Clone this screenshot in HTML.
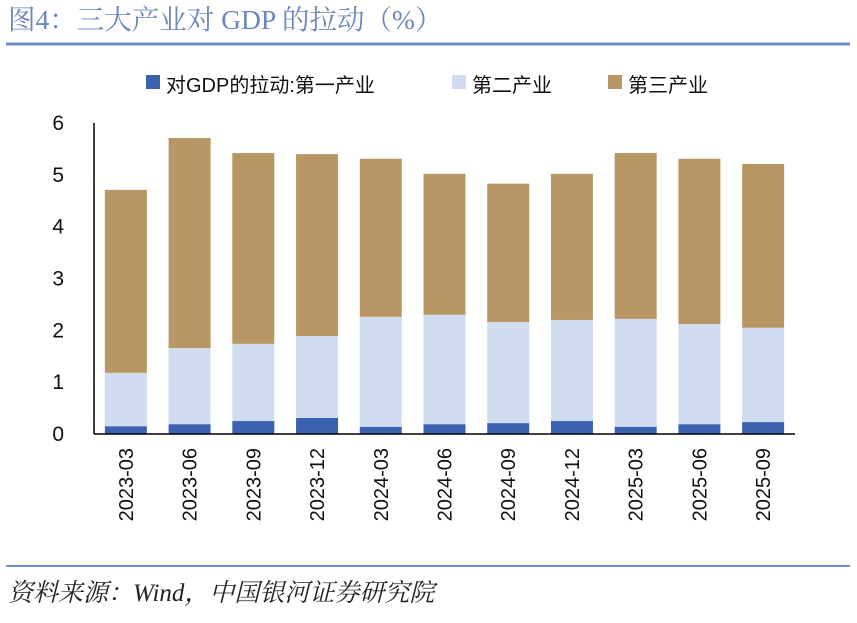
<!DOCTYPE html>
<html><head><meta charset="utf-8"><style>
body{margin:0;background:#fff;width:857px;height:618px;overflow:hidden;font-family:"Liberation Serif","Noto Serif CJK SC",serif;}
</style></head><body>
<svg width="857" height="618">
<text x="8" y="29" font-size="27.5" fill="#6a86ba" font-family="Liberation Serif, Noto Serif CJK SC, serif">图4：三大产业对 GDP 的拉动（%）</text>
<line x1="6" y1="44" x2="850" y2="44" stroke="#6f8fc4" stroke-width="3"/>
<g id="legend" font-size="20" font-family="Liberation Sans, Noto Sans CJK SC, sans-serif" fill="#111">
<rect x="146" y="75" width="14" height="14" fill="#3a62b0"/>
<text x="166" y="92">对GDP的拉动:第一产业</text>
<rect x="452" y="75" width="14" height="14" fill="#d0ddf0"/>
<text x="472" y="92">第二产业</text>
<rect x="608" y="75" width="14" height="14" fill="#b99764"/>
<text x="628" y="92">第三产业</text>
</g>
<g id="plot"></g>
<line x1="6" y1="566" x2="850" y2="566" stroke="#6f8fc4" stroke-width="2"/>
<text x="8" y="601" font-size="25" font-style="italic" fill="#222" font-family="Liberation Serif, Noto Serif CJK SC, serif">资料来源：Wind，中国银河证券研究院</text>
</svg>
<script>
const categories=["2023-03","2023-06","2023-09","2023-12","2024-03","2024-06","2024-09","2024-12","2025-03","2025-06","2025-09"];
const primary=[0.15,0.19,0.25,0.31,0.14,0.19,0.21,0.25,0.14,0.19,0.23];
const secondary=[1.03,1.47,1.49,1.58,2.12,2.11,1.95,1.95,2.08,1.93,1.82];
const tertiary=[3.53,4.05,3.68,3.51,3.05,2.72,2.67,2.82,3.20,3.19,3.16];
const yTicks=[0,1,2,3,4,5,6];
const NS="http://www.w3.org/2000/svg";
const g=document.getElementById('plot');
const x0=94,x1=795,yb=434,yt=123,ymax=6;
const step=(x1-x0)/categories.length,bw=42;
const Y=v=>yb-(v/ymax)*(yb-yt);
const X=i=>x0+step*(i+0.5);
function mk(t,a){const e=document.createElementNS(NS,t);for(const k in a)e.setAttribute(k,a[k]);g.appendChild(e);return e;}
const series=[[primary,"#3a62b0","primary"],[secondary,"#d0ddf0","secondary"],[tertiary,"#b99764","tertiary"]];
categories.forEach((c,i)=>{
  let base=0;
  series.forEach(([arr,col,nm])=>{
    const r=mk('rect',{x:X(i)-bw/2,y:Y(base+arr[i]),width:bw,height:Y(base)-Y(base+arr[i]),fill:col});
    
    
    base+=arr[i];
  });
  const t=mk('text',{x:0,y:0,transform:`translate(${X(i)+7},448) rotate(-90)`,'text-anchor':'end','font-size':20,fill:'#111','font-family':'Liberation Sans, sans-serif'});
  t.textContent=c;
  
  
});
yTicks.forEach(v=>{
  const t=mk('text',{x:64,y:Y(v)+7,'text-anchor':'end','font-size':21,fill:'#111','font-family':'Liberation Sans, sans-serif'});
  t.textContent=v;
  
  
});
const ya=mk('line',{x1:x0,y1:yt,x2:x0,y2:yb,stroke:'#000','stroke-width':1.5});


const xa=mk('line',{x1:x0,y1:yb,x2:x1,y2:yb,stroke:'#000','stroke-width':1.5});


</script>
</body></html>
